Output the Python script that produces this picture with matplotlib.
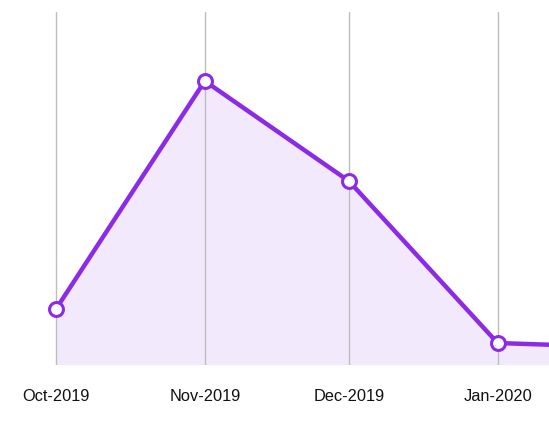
import numpy as np
import pandas as pd
import matplotlib as mpl
mpl.use('Agg')
import matplotlib.pyplot as plt
import matplotlib.dates as mdates

# Monthly values (arbitrary units)
months = ['2019-10-01', '2019-11-01', '2019-12-01', '2020-01-01', '2020-02-01']
values = [56, 284, 184, 22, 17]
tick_labels = ['Oct-2019', 'Nov-2019', 'Dec-2019', 'Jan-2020']

dates = pd.to_datetime(months)
purple = '#8b2be8'
fill = '#f3e9fd'

plt.rcParams['font.family'] = ['Liberation Sans', 'DejaVu Sans']

fig = plt.figure(figsize=(5.49, 4.38), dpi=100)
ax = fig.add_axes([0, 73 / 438, 1, 353 / 438])

x = mdates.date2num(dates)
ax.fill_between(x, values, 0, color=fill, zorder=1, linewidth=0)
ax.plot(x, values, color=purple, linewidth=3.2, zorder=3, solid_joinstyle='round')
ax.plot(x, values, 'o', markersize=10, markerfacecolor='white',
        markeredgecolor=purple, markeredgewidth=2.2, zorder=4)

start = mdates.date2num(pd.Timestamp('2019-10-01'))
ax.set_xlim(start - 56 / 4.8, start + 549 / 4.8 - 56 / 4.8)
ax.set_ylim(0, 353)

ticks = x[:4]
ax.set_xticks(ticks)
ax.set_xticklabels(tick_labels, fontsize=11.8, color='#111111')
ax.set_yticks([])
ax.tick_params(axis='x', length=0, pad=17.5)
ax.grid(axis='x', color='#bdbdbd', linewidth=1, zorder=2)
ax.set_axisbelow(False)
for s in ax.spines.values():
    s.set_visible(False)

plt.savefig('out.png', dpi=100)
